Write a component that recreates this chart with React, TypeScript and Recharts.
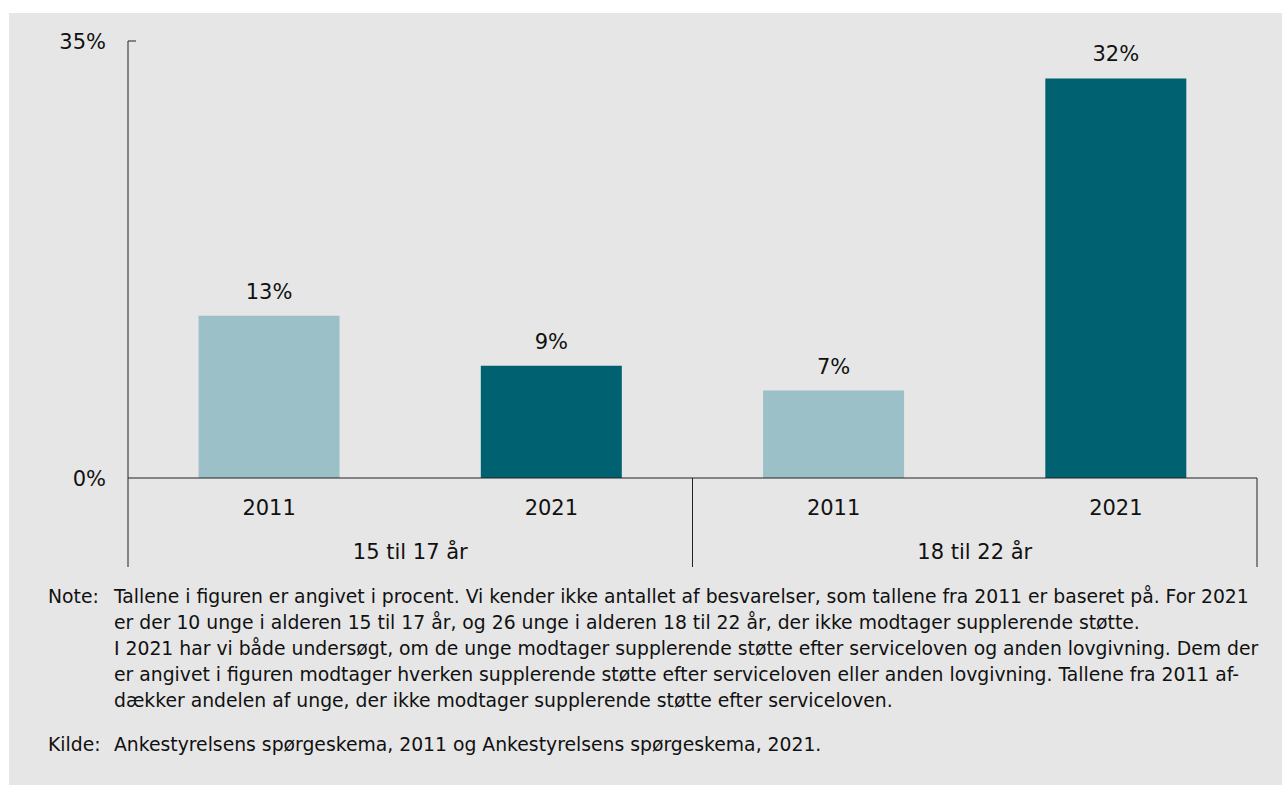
import React from 'react';
import { BarChart, Bar, XAxis, YAxis, Cell, LabelList } from 'recharts';

const years = ['2011', '2021', '2011', '2021'];
const groups = ['15 til 17 år', '15 til 17 år', '18 til 22 år', '18 til 22 år'];
const values = [13, 9, 7, 32];
const colors = ['#9bc0c8', '#006170', '#9bc0c8', '#006170'];
const yTicks = [0, 35];

const noteLines = [
  'Tallene i figuren er angivet i procent. Vi kender ikke antallet af besvarelser, som tallene fra 2011 er baseret på. For 2021',
  'er der 10 unge i alderen 15 til 17 år, og 26 unge i alderen 18 til 22 år, der ikke modtager supplerende støtte.',
  'I 2021 har vi både undersøgt, om de unge modtager supplerende støtte efter serviceloven og anden lovgivning. Dem der',
  'er angivet i figuren modtager hverken supplerende støtte efter serviceloven eller anden lovgivning. Tallene fra 2011 af-',
  'dækker andelen af unge, der ikke modtager supplerende støtte efter serviceloven.',
];
const sourceText = 'Ankestyrelsens spørgeskema, 2011 og Ankestyrelsens spørgeskema, 2021.';

const data = years.map((y, i) => ({ key: `${y}-${i}`, year: y, group: groups[i], value: values[i] }));

const FONT = '"DejaVu Sans", Verdana, sans-serif';
const CHART_W = 1273;
const CHART_H = 554;
const Y_W = 119;
const M = { top: 28, right: 25, left: 0, bottom: 0 };
const X_H = 89;
const PLOT_W = CHART_W - Y_W - M.left - M.right;
const BAND = PLOT_W / data.length;

const XTick = (props: any) => {
  const { x, y, payload } = props;
  const i = payload.index;
  const half = BAND / 2;
  const g = groups[i];
  const isFirst = i === 0 || groups[i - 1] !== g;
  const isLast = i === groups.length - 1;
  let count = 0;
  for (let k = i; k < groups.length && groups[k] === g; k++) count++;
  return (
    <g>
      <text x={x} y={y + 30} textAnchor="middle" dominantBaseline="central" fontSize={21} fill="#111" fontFamily={FONT}>
        {years[i]}
      </text>
      {isFirst && (
        <>
          <line x1={x - half} x2={x - half} y1={y} y2={y + X_H} stroke="#222" strokeWidth={1} />
          <text x={x + (count - 1) * half} y={y + 74} textAnchor="middle" dominantBaseline="central" fontSize={21} fill="#111" fontFamily={FONT}>
            {g}
          </text>
        </>
      )}
      {isLast && <line x1={x + half} x2={x + half} y1={y} y2={y + X_H} stroke="#222" strokeWidth={1} />}
    </g>
  );
};

const YTick = (props: any) => {
  const { x, y, payload } = props;
  return (
    <g>
      {payload.value !== 0 && <line x1={x} x2={x + 8} y1={y} y2={y} stroke="#222" strokeWidth={1} />}
      <text x={x - 22} y={y + 1} textAnchor="end" dominantBaseline="central" fontSize={21} fill="#111" fontFamily={FONT}>
        {`${payload.value}%`}
      </text>
    </g>
  );
};

export default function App() {
  return (
    <div
      style={{
        position: 'absolute',
        left: 9,
        top: 13,
        width: 1273,
        height: 772,
        background: '#e6e6e6',
        fontFamily: FONT,
        color: '#111',
      }}
    >
      <BarChart width={CHART_W} height={CHART_H} data={data} margin={M} barCategoryGap="25%">
        <XAxis
          dataKey="key"
          height={X_H}
          tickLine={false}
          tickSize={0}
          tickMargin={0}
          axisLine={{ stroke: '#222' }}
          tick={<XTick />}
          interval={0}
        />
        <YAxis
          width={Y_W}
          domain={[0, 35]}
          ticks={yTicks}
          tickLine={false}
          tickSize={0}
          tickMargin={0}
          axisLine={{ stroke: '#222' }}
          tick={<YTick />}
          interval={0}
        />
        <Bar dataKey="value" isAnimationActive={false}>
          {data.map((d, i) => (
            <Cell key={d.key} fill={colors[i]} />
          ))}
          <LabelList
            dataKey="value"
            position="top"
            offset={17}
            formatter={(v: any) => `${v}%`}
            style={{ fontSize: 21, fill: '#111', fontFamily: FONT }}
          />
        </Bar>
      </BarChart>
      <div style={{ position: 'absolute', left: 39, top: 571, fontSize: 18.8, lineHeight: '26px', whiteSpace: 'nowrap' }}>
        <div style={{ display: 'flex' }}>
          <div style={{ width: 66 }}>Note:</div>
          <div>
            {noteLines.map((l, i) => (
              <div key={i}>{l}</div>
            ))}
          </div>
        </div>
        <div style={{ display: 'flex', marginTop: 18 }}>
          <div style={{ width: 66 }}>Kilde:</div>
          <div>{sourceText}</div>
        </div>
      </div>
    </div>
  );
}
